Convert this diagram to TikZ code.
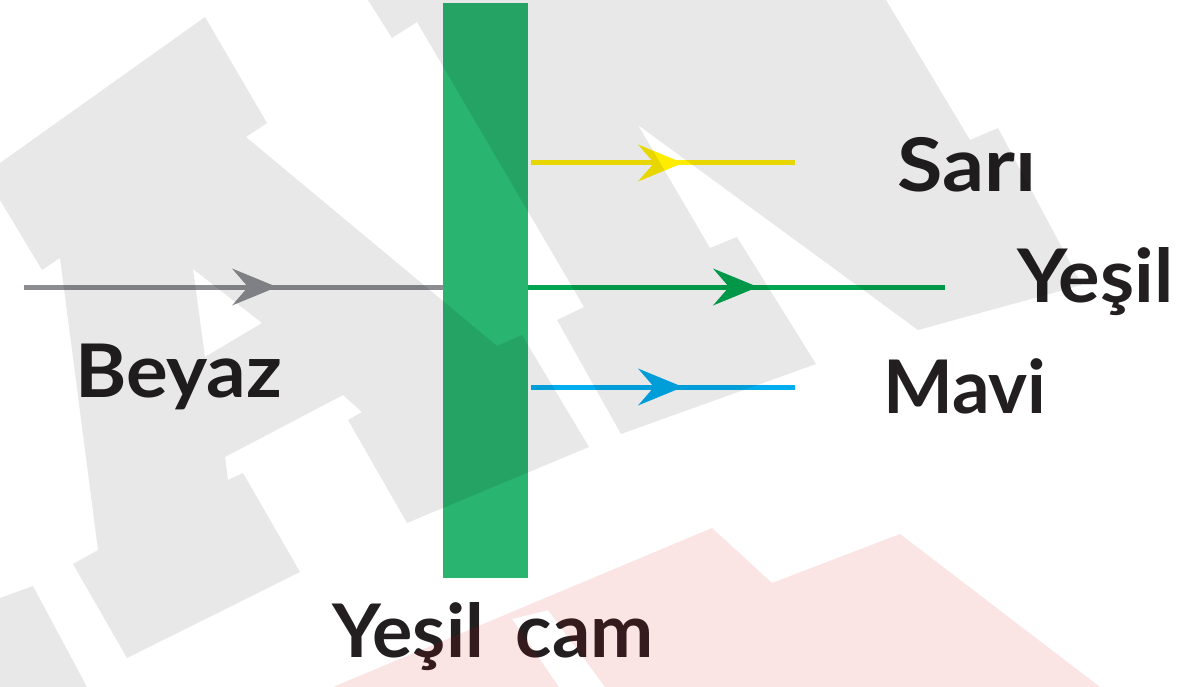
\documentclass[tikz,border=0pt]{standalone}
\usepackage{fontspec}
\newfontfamily\lblfont{Lato}
\usetikzlibrary{decorations.markings}
\definecolor{wmdark}{RGB}{0,0,0}
\definecolor{wmred}{RGB}{208,0,4}
\definecolor{glassgreen}{RGB}{41,180,112}
\definecolor{raygrey}{RGB}{140,141,145}
\definecolor{rayyellow}{RGB}{255,236,0}
\definecolor{raygreen}{RGB}{0,166,81}
\definecolor{rayblue}{RGB}{0,174,239}
\definecolor{txt}{RGB}{35,31,32}
\tikzset{
  ray/.style={line width=5pt, postaction={decorate},
    decoration={markings, mark=at position #1 with {\fill (0pt,0pt) -- (-45pt,18.5pt) -- (-29pt,0pt) -- (-45pt,-18.5pt) -- cycle;}}},
  lbl/.style={anchor=base west, inner sep=0pt, text=txt, font=\lblfont\bfseries\fontsize{74}{80}\selectfont},
  glassbox/.style={fill=glassgreen, minimum width=85pt, minimum height=575pt, inner sep=0pt, outer sep=0pt},
  wm/.style={fill=wmdark, fill opacity=0.09, even odd rule},
  wmpink/.style={fill=wmred, fill opacity=0.106, even odd rule}
}
\begin{document}
\begin{tikzpicture}[x=1pt,y=-1pt]
\useasboundingbox (0,0) rectangle (1198,687);
\fill[white] (0,0) rectangle (1198,687);
% glass and rays
\node[glassbox] (glass) at (485.5,290.5) {};
\coordinate (wsrc) at (24,287);
\coordinate (ysrc) at (531,163);
\coordinate (yend) at (795,163);
\coordinate (gend) at (945,287);
\coordinate (bsrc) at (531,387);
\coordinate (bend) at (795,387);
\draw[ray=253pt, color=raygrey] (wsrc) -- (wsrc -| glass.west);
\draw[ray=152pt, color=rayyellow] (ysrc) -- (yend);
\draw[ray=230pt, color=raygreen] (wsrc -| glass.east) -- (gend);
\draw[ray=152pt, color=rayblue] (bsrc) -- (bend);
% labels
\node[lbl] (beyaz) at (75,397) {\scalebox{1.055}[1]{Beyaz}};
\node[lbl] (sari) at (897,191) {\scalebox{1.12}[1]{Sarı}};
\node[lbl] (yesil) at (1017,302) {\scalebox{1.05}[1]{Yeşil}};
\node[lbl] (mavi) at (883,413) {Mavi};
\node[lbl] (cam) at (332,657) {\scalebox{1.02}[1]{Yeşil\hspace{31pt}cam}};
% watermark overlay
\fill[wm] (0,163) -- (205,17) -- (267,123) -- (246,137) -- (497,346) -- (522,335) -- (589,447) -- (407,523) -- (348,420) -- (362,412) -- (343,395) -- (225,457) -- (228,480) -- (243,473) -- (300,572) -- (127,658) -- (73,564) -- (98,550) -- (72,350) -- (60,258) -- (42,270) -- (0,200) -- cycle
  (193,269) -- (262,323) -- (205,357) -- cycle;
\fill[wm] (368,0) -- (392,38) -- (417,22) -- (584,307) -- (557,320) -- (621,434) -- (816,364) -- (737,237) -- (710,248) -- (638,125) -- (918,330) -- (1082,285) -- (998,128) -- (970,140) -- (886,0) -- cycle;
\fill[wm] (0,598) -- (33,586) -- (87,687) -- (0,687) -- cycle;
\fill[wmpink] (333,687) -- (712,528) -- (772,583) -- (900,534) -- (1100,687) -- cycle
  (512,619) -- (548,610) -- (605,687) -- (559,687) -- cycle;
\end{tikzpicture}
\end{document}
